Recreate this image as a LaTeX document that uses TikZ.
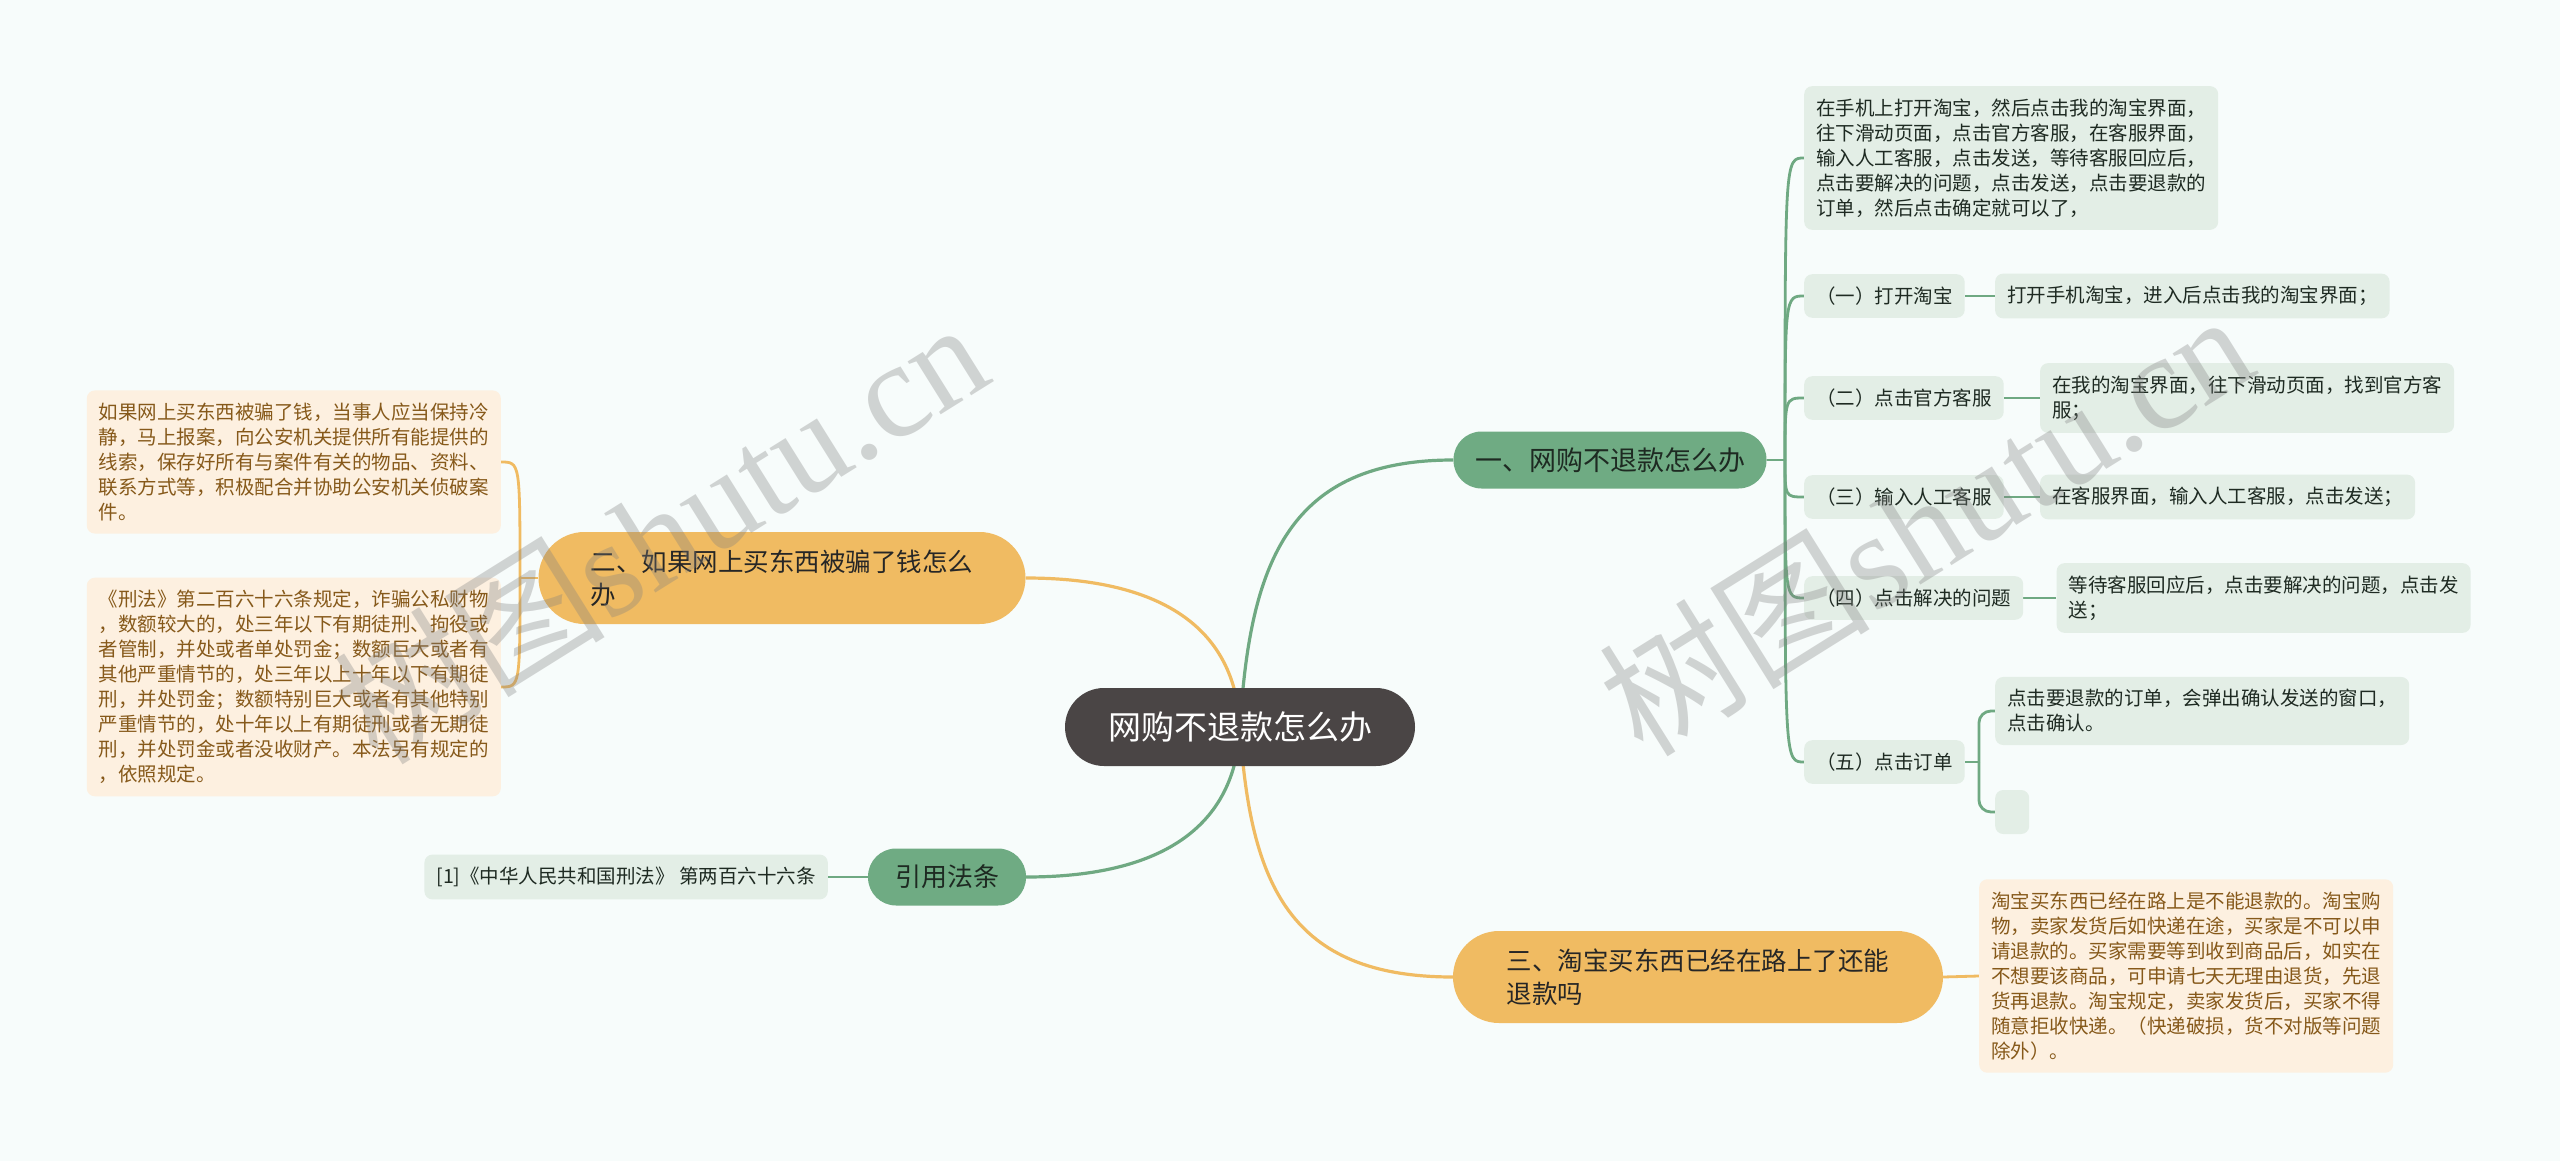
\documentclass[tikz,border=0pt]{standalone}
\usepackage{fontspec}
\setmainfont{Noto Sans CJK SC}
\newfontfamily\wmlatin{Liberation Serif}
\usetikzlibrary{calc,backgrounds}
\definecolor{bgc}{HTML}{F7FCFB}
\definecolor{rootc}{HTML}{4A4545}
\definecolor{gmain}{HTML}{6FAB83}
\definecolor{omain}{HTML}{F0BB62}
\definecolor{gleaf}{HTML}{E3EEE6}
\definecolor{oleaf}{HTML}{FDF0E0}
\definecolor{gtext}{HTML}{1E2A22}
\definecolor{otext}{HTML}{86591A}
\definecolor{gline}{HTML}{6FA982}
\definecolor{oline}{HTML}{F0BB62}
\begin{document}
\begin{tikzpicture}[x=1pt,y=-1pt,
  rootnode/.style={fill=rootc, text=white, rounded corners=39pt, minimum width=350pt, minimum height=78pt, inner sep=0pt, font=\fontsize{33}{40}\selectfont},
  gbranch/.style={fill=gmain, text=gtext, rounded corners=28pt, minimum height=57pt, inner sep=0pt, font=\fontsize{27}{34}\selectfont},
  obranch/.style={fill=omain, text=black!85, rounded corners=46pt, minimum height=92pt, inner sep=0pt, align=left, font=\fontsize{25.5}{33}\selectfont},
  gleafnode/.style={fill=gleaf, text=gtext, rounded corners=8pt, inner xsep=12pt, inner ysep=12.5pt, align=left, font=\fontsize{19.5}{25}\selectfont},
  oleafnode/.style={gleafnode, fill=oleaf, text=otext},
  gconn/.style={draw=gline, line width=3.2pt},
  oconn/.style={draw=oline, line width=3.2pt},
  gsub/.style={draw=gline, line width=2.8pt},
  osub/.style={draw=oline, line width=2.8pt},
  wm/.style={text=black!50, text opacity=0.33, rotate=32, inner sep=0pt, font=\fontsize{136}{136}\selectfont}
]
\useasboundingbox (0,0) rectangle (2560,1161);

% main nodes
\node[rootnode] (root) at (1240,727) {网购不退款怎么办};
\node[gbranch, minimum width=313pt] (b1) at (1610,460) {一、网购不退款怎么办};
\node[obranch, minimum width=487pt] (b2) at (782,578) {二、如果网上买东西被骗了钱怎么\\办};
\node[gbranch, minimum width=158pt, font=\fontsize{26}{32}\selectfont] (b4) at (947,877) {引用法条};
\node[obranch, minimum width=490pt] (b3) at (1698,977) {三、淘宝买东西已经在路上了还能\\退款吗};

% right leaves
\node[gleafnode, anchor=west] (l0) at (1804,158) {在手机上打开淘宝，然后点击我的淘宝界面，\\往下滑动页面，点击官方客服，在客服界面，\\输入人工客服，点击发送，等待客服回应后，\\点击要解决的问题，点击发送，点击要退款的\\订单，然后点击确定就可以了，};
\node[gleafnode, anchor=west] (s1) at (1804,296) {（一）打开淘宝};
\node[gleafnode, anchor=west] (t1) at ([xshift=30pt]s1.east) {打开手机淘宝，进入后点击我的淘宝界面；};
\node[gleafnode, anchor=west] (s2) at (1804,398) {（二）点击官方客服};
\node[gleafnode, anchor=west] (t2) at ([xshift=36pt]s2.east) {在我的淘宝界面，往下滑动页面，找到官方客\\服；};
\node[gleafnode, anchor=west] (s3) at (1804,497) {（三）输入人工客服};
\node[gleafnode, anchor=west] (t3) at ([xshift=36pt]s3.east) {在客服界面，输入人工客服，点击发送；};
\node[gleafnode, anchor=west] (s4) at (1804,598) {（四）点击解决的问题};
\node[gleafnode, anchor=west] (t4) at ([xshift=33pt]s4.east) {等待客服回应后，点击要解决的问题，点击发\\送；};
\node[gleafnode, anchor=west] (s5) at (1804,762) {（五）点击订单};
\node[gleafnode, anchor=west] (t5a) at (1995,711) {点击要退款的订单，会弹出确认发送的窗口，\\点击确认。};
\node[gleafnode, anchor=west, minimum width=34pt, minimum height=44pt, inner sep=0pt] (t5b) at (1995,812) {};

% left leaves
\node[oleafnode, anchor=east] (l1) at (501,462) {如果网上买东西被骗了钱，当事人应当保持冷\\静，马上报案，向公安机关提供所有能提供的\\线索，保存好所有与案件有关的物品、资料、\\联系方式等，积极配合并协助公安机关侦破案\\件。};
\node[oleafnode, anchor=east] (l2) at (501,687) {《刑法》第二百六十六条规定，诈骗公私财物\\，数额较大的，处三年以下有期徒刑、拘役或\\者管制，并处或者单处罚金；数额巨大或者有\\其他严重情节的，处三年以上十年以下有期徒\\刑，并处罚金；数额特别巨大或者有其他特别\\严重情节的，处十年以上有期徒刑或者无期徒\\刑，并处罚金或者没收财产。本法另有规定的\\，依照规定。};
\node[gleafnode, anchor=east] (ref) at (828,877) {[1]《中华人民共和国刑法》 第两百六十六条};

% bottom right leaf
\node[oleafnode, anchor=west] (l3) at (1979,976) {淘宝买东西已经在路上是不能退款的。淘宝购\\物，卖家发货后如快递在途，买家是不可以申\\请退款的。买家需要等到收到商品后，如实在\\不想要该商品，可申请七天无理由退货，先退\\货再退款。淘宝规定，卖家发货后，买家不得\\随意拒收快递。（快递破损，货不对版等问题\\除外）。};

\begin{pgfonlayer}{background}
\fill[bgc] (0,0) rectangle (2560,1161);
\draw[gconn] (root.center) .. controls (1250,560) and (1290,460) .. (b1.west);
\draw[oconn] (root.center) .. controls (1250,885) and (1290,977) .. (b3.west);
\draw[oconn] (root.center) .. controls (1235,620) and (1150,578) .. (b2.east);
\draw[gconn] (root.center) .. controls (1235,835) and (1150,877) .. (b4.east);

\coordinate (f1) at (1785,460);
\draw[gsub] (b1.east) -- (f1);
\foreach \n in {l0,s1,s2,s3,s4,s5}
  \draw[gsub] (f1) .. controls (f1 |- \n.west) .. (\n.west);
\draw[gsub] (s1.east) -- (t1.west);
\draw[gsub] (s2.east) -- (t2.west);
\draw[gsub] (s3.east) -- (t3.west);
\draw[gsub] (s4.east) -- (t4.west);
\coordinate (f5) at ([xshift=14pt]s5.east);
\draw[gsub] (s5.east) -- (f5);
\draw[gsub, rounded corners=12pt] (f5) |- (t5a.west);
\draw[gsub, rounded corners=12pt] (f5) |- (t5b.west);

\coordinate (f2) at (520,578);
\draw[osub] (b2.west) -- (f2);
\draw[osub] (f2) .. controls (f2 |- l1.east) .. (l1.east);
\draw[osub] (f2) .. controls (f2 |- l2.east) .. (l2.east);
\draw[gsub] (b4.west) -- (ref.east);
\draw[osub] (b3.east) -- (l3.west);
\end{pgfonlayer}

% watermarks
\node[wm] (wm1) at (660,530) {树图{\wmlatin shutu.cn}};
\node[wm] (wm2) at (1925,522) {树图{\wmlatin shutu.cn}};
\end{tikzpicture}
\end{document}
